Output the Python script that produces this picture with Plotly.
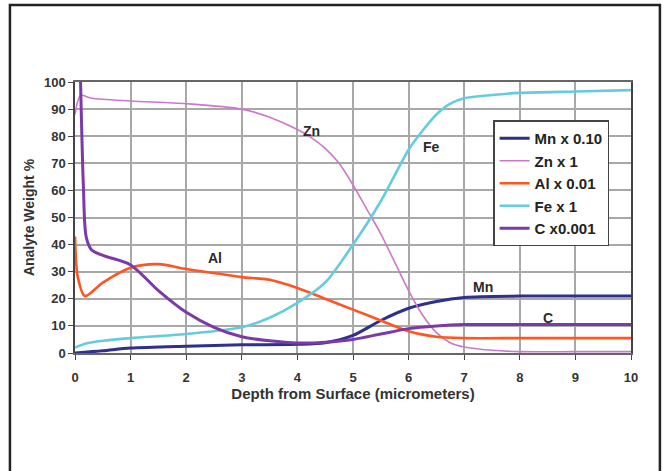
import plotly.graph_objects as go

# ---- data ----
zn_x = [0, 0.1, 0.3, 1, 2, 3, 3.5, 4, 4.25, 4.5, 4.75, 5, 5.25, 5.5, 5.75, 6, 6.25, 6.5, 6.75, 7, 7.5, 8, 9, 10]
zn_y = [88, 95, 94, 93, 92, 90, 87, 82.5, 79.5, 75.5, 70, 62, 53, 44, 33.5, 23, 14, 7.5, 3.8, 2.2, 1, 0.5, 0.5, 0.5]

fe_x = [0, 0.2, 0.5, 1, 2, 3, 3.5, 4, 4.5, 5, 5.5, 6, 6.25, 6.5, 6.75, 7, 7.5, 8, 9, 10]
fe_y = [2, 3.5, 4.5, 5.5, 7, 9.5, 13, 18.5, 26, 40, 56, 75, 82, 88, 92, 94, 95.2, 96, 96.5, 97]

al_x = [0, 0.05, 0.18, 0.5, 1, 1.5, 2, 2.5, 3, 3.5, 4, 4.5, 5, 5.5, 6, 6.5, 7, 8, 9, 10]
al_y = [43, 28, 21, 26, 31.5, 32.8, 31, 29.5, 28, 27, 24, 20, 16, 12, 8, 6, 5.5, 5.5, 5.5, 5.5]

c_x = [0.1, 0.15, 0.2, 0.3, 0.5, 1, 1.5, 2, 2.5, 3, 3.5, 4, 4.5, 5, 5.5, 6, 6.5, 7, 8, 9, 10]
c_y = [100, 62, 43, 38, 36, 32.5, 23, 15, 9.5, 6, 4.5, 3.7, 4, 5, 7, 9, 10, 10.5, 10.5, 10.5, 10.5]

mn_x = [0, 0.5, 1, 2, 3, 4, 4.5, 5, 5.5, 6, 6.5, 7, 8, 9, 10]
mn_y = [0, 0.8, 1.8, 2.5, 3, 3.2, 3.8, 6.5, 12, 16.5, 19, 20.5, 21, 21, 21]

series_names = ["Mn x 0.10", "Zn x 1", "Al x 0.01", "Fe x 1", "C x0.001"]

x_ticks = list(range(0, 11))
y_ticks = list(range(0, 101, 10))

labels_text = ["Zn", "Fe", "Al", "Mn", "C"]
labels_x = [4.26, 6.42, 2.52, 7.34, 8.5]
labels_y = [82, 76, 35, 24.3, 13]

FONT = "Liberation Sans, Arial"

# ---- figure ----
fig = go.Figure()
specs = [
    (mn_x, mn_y, series_names[0], "#2f2f8f", 3),
    (zn_x, zn_y, series_names[1], "#cc77cc", 1.6),
    (al_x, al_y, series_names[2], "#ff5522", 2.6),
    (fe_x, fe_y, series_names[3], "#66ccdd", 2.6),
    (c_x, c_y, series_names[4], "#7a3aa8", 3),
]
for xs, ys, nm, col, w in specs:
    fig.add_trace(go.Scatter(x=xs, y=ys, name="<b>" + nm + "</b>", mode="lines",
                             line=dict(color=col, width=w, shape="spline", smoothing=0.8)))

for t, lx, ly in zip(labels_text, labels_x, labels_y):
    fig.add_annotation(x=lx, y=ly, text="<b>" + t + "</b>", showarrow=False,
                       font=dict(family=FONT, size=14, color="#2a2a2a"))

# outer frame
fig.add_shape(type="rect", xref="paper", yref="paper",
              x0=-0.117, x1=1.052, y0=-0.46, y1=1.284,
              line=dict(color="#222222", width=2.5), layer="below")

axis_font = dict(family=FONT, size=13, color="#333333")
fig.update_xaxes(range=[0, 10], tickvals=x_ticks,
                 ticktext=["<b>%d</b>" % v for v in x_ticks],
                 showgrid=True, gridcolor="#a8a8a8", gridwidth=1.5,
                 showline=True, linecolor="#666666", linewidth=1.5, mirror=True,
                 ticks="outside", ticklen=5, tickcolor="#444444",
                 ticklabelstandoff=7,
                 tickfont=axis_font, zeroline=False,
                 title=dict(text="<b>Depth from Surface (micrometers)</b>",
                            font=dict(family=FONT, size=15, color="#333333"),
                            standoff=2))
fig.update_yaxes(range=[0, 100], tickvals=y_ticks,
                 ticktext=["<b>%d</b>" % v for v in y_ticks],
                 showgrid=True, gridcolor="#a8a8a8", gridwidth=1.5,
                 showline=True, linecolor="#444444", linewidth=1.5, mirror=True,
                 ticks="outside", ticklen=5, tickcolor="#444444",
                 tickfont=axis_font, zeroline=False,
                 title=dict(text="<b>Analyte Weight %</b>",
                            font=dict(family=FONT, size=14, color="#333333"),
                            standoff=6))

fig.update_layout(
    width=669, height=471,
    margin=dict(l=75, r=38, t=82, b=118),
    paper_bgcolor="white", plot_bgcolor="white",
    showlegend=True,
    legend=dict(x=0.752, y=0.858, xanchor="left", yanchor="top",
                bgcolor="white", bordercolor="#444444", borderwidth=1.5,
                font=dict(family=FONT, size=15, color="#222222"),
                itemwidth=30, tracegroupgap=0),
)

fig.write_html("out.html",
               config={"displayModeBar": False},
               post_script="document.body.style.margin='0';document.body.style.overflow='hidden';")
